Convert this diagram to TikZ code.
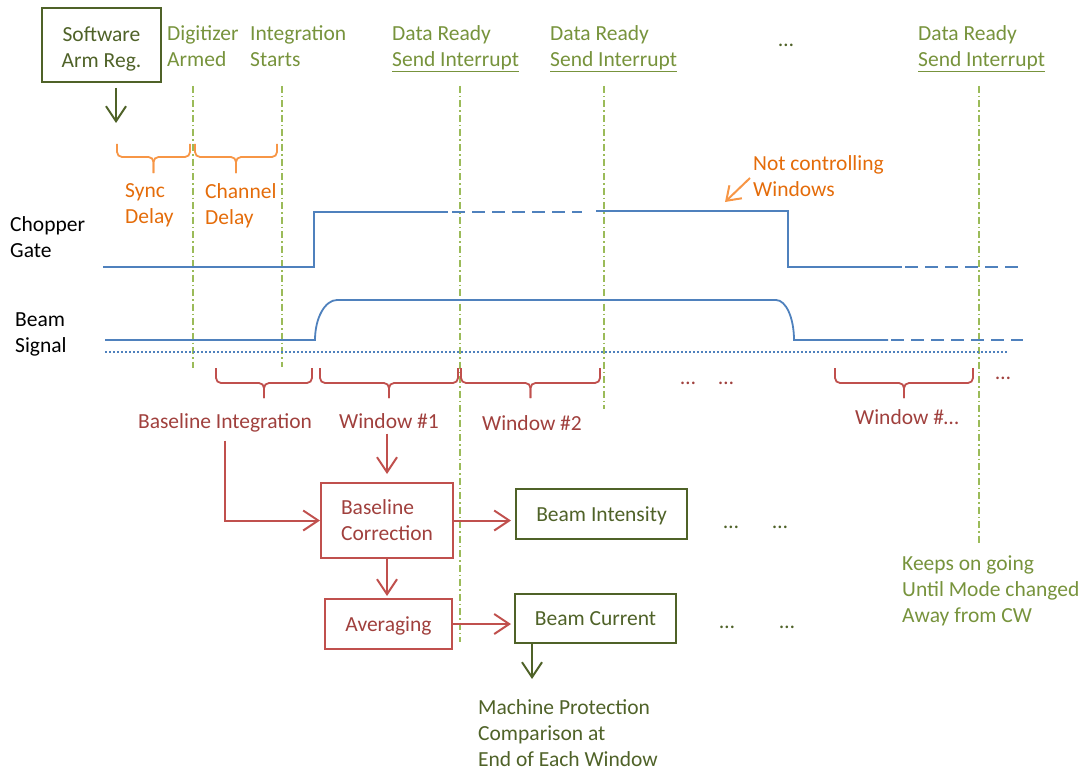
\documentclass[tikz,border=0pt]{standalone}
\usepackage{fontspec}
\setmainfont{Carlito}
\usepackage{tikz}
\usetikzlibrary{arrows.meta,calc}

\definecolor{boxgreen}{HTML}{4F6228}
\definecolor{txtgreen}{HTML}{77933C}
\definecolor{markgreen}{HTML}{9BBB59}
\definecolor{txtorange}{HTML}{E46C0A}
\definecolor{lineorange}{HTML}{F79646}
\definecolor{wblue}{HTML}{4F81BD}
\definecolor{linered}{HTML}{C0504D}
\definecolor{txtred}{HTML}{A0403D}

\begin{document}
\begin{tikzpicture}[x=1pt,y=-1pt,
  every node/.style={font=\fontsize{21.5}{26}\selectfont, inner sep=0pt},
  gtext/.style={text=txtgreen},
  otext/.style={text=txtorange},
  rtext/.style={text=txtred},
  greenbox/.style={draw=boxgreen, line width=2pt, text=boxgreen},
  redbox/.style={draw=linered, line width=2pt, text=txtred},
  marker/.style={draw=markgreen, line width=2pt, dash pattern=on 7pt off 3pt on 1.5pt off 3pt},
  wave/.style={draw=wblue, line width=1.8pt},
  wdash/.style={dash pattern=on 13pt off 7pt},
  obrace/.style={draw=lineorange, line width=1.8pt, rounded corners=5pt},
  rbrace/.style={draw=linered, line width=1.8pt, rounded corners=5pt},
  garrow/.style={draw=boxgreen, line width=2pt, -{Straight Barb[length=15pt,width=20pt]}},
  rarrow/.style={draw=linered, line width=2pt, -{Straight Barb[length=15pt,width=20pt]}},
  oarrow/.style={draw=lineorange, line width=2pt, -{Straight Barb[length=13pt,width=18pt]}}]
\useasboundingbox (0,0) rectangle (1084,773);

% Markers
\draw[marker] (193,86) -- (193,368);
\draw[marker] (282,86) -- (282,367);
\draw[marker] (460,86) -- (460,642);
\draw[marker] (604,86) -- (604,409);
\draw[marker] (979,86) -- (979,545);

% Top labels
\node[greenbox, minimum width=119pt, minimum height=74pt, align=center] (arm) at (101.5,45) {\rule{0pt}{23pt}Software\\Arm Reg.};
\node[gtext, anchor=west, align=left] (armed) at (167,46) {Digitizer\\Armed};
\node[gtext, anchor=west, align=left] (intstart) at (250,46) {Integration\\Starts};
\foreach \x/\n in {392/1,550/2,918/3}
    \node[gtext, anchor=west, align=left] (ready\n) at (\x,49) {Data Ready\\\underline{Send Interrupt}};
\node[text=boxgreen] (topdots) at (786,45) {…};

\coordinate (armtip) at (116,123);
\draw[garrow, shorten <=5pt] (arm.south -| armtip) -- (armtip);

% Delays
\foreach \a/\b in {117/190,195/277} {
    \draw[obrace] (\a,144) -- (\a,157) -- ({(\a+\b)/2},157) -- ({(\a+\b)/2},173);
    \draw[obrace] ({(\a+\b)/2},173) -- ({(\a+\b)/2},157) -- (\b,157) -- (\b,144);
}
\node[otext, anchor=west, align=left] (sync) at (125,205) {Sync\\Delay};
\node[otext, anchor=west, align=left] (chan) at (205,206) {Channel\\Delay};

\node[otext, anchor=west, align=left] (notctrl) at (753,176) {Not controlling\\Windows};
\coordinate (ncfrom) at (750,178);
\coordinate (ncto) at (725,202);
\draw[oarrow] (ncfrom) -- (ncto);

% Signals
\node[anchor=west, align=left] (chopper) at (10,237) {Chopper\\Gate};
\node[anchor=west, align=left] (beam) at (15,334) {Beam\\Signal};

\draw[wave] (103,267) -- (314,267) -- (314,212) -- (448,212);
\draw[wave, wdash] (452,212) -- (582,212);
\draw[wave] (596,211) -- (788,211) -- (788,267) -- (902,267);
\draw[wave, wdash] (905,267) -- (1024,267);

\draw[wave] (105,340) -- (315,340) .. controls (315,318) and (325,300) .. (337,300)
    -- (776,300) .. controls (786,300) and (794,318) .. (794,340) -- (888,340);
\draw[wave, wdash] (891,340) -- (1023,340);
\draw[wblue, line width=2pt, dash pattern=on 2pt off 2pt] (105,352) -- (1007,352);

% Windows
\foreach \a/\b in {216/312,320/458,461/600,835/973} {
    \draw[rbrace] (\a,368) -- (\a,383) -- ({(\a+\b)/2},383) -- ({(\a+\b)/2},398);
    \draw[rbrace] ({(\a+\b)/2},398) -- ({(\a+\b)/2},383) -- (\b,383) -- (\b,368);
}

\node[rtext] (bint) at (225,423) {Baseline Integration};
\node[rtext] (win1) at (389,421) {Window \#1};
\node[rtext] (win2) at (532,423) {Window \#2};
\node[rtext] (winn) at (907,417) {Window \#…};
\node[rtext] (rdotsa) at (688,383) {…};
\node[rtext] (rdotsb) at (726,383) {…};
\node[rtext] (rdotsc) at (1003,378) {…};

% Processing
\node[redbox, minimum width=132pt, minimum height=75pt, align=left] (bcorr) at (387,520.5) {Baseline\\Correction};
\node[redbox, minimum width=127pt, minimum height=50pt] (avg) at (388.5,624) {\rule{0pt}{19pt}Averaging};
\node[greenbox, minimum width=171pt, minimum height=50pt] (binten) at (601.5,514) {\rule{0pt}{19pt}Beam Intensity};
\node[greenbox, minimum width=161pt, minimum height=49pt] (bcur) at (595.5,618.5) {Beam Current};

\draw[rarrow, shorten <=8pt] (bint.south) |- (bcorr.west);
\draw[rarrow, shorten <=5pt, shorten >=8pt] (bcorr.north |- win1.south) -- (bcorr.north);
\draw[rarrow, shorten >=4pt] (bcorr.east) -- (bcorr.east -| binten.west);
\draw[rarrow, shorten >=2pt] (bcorr.south) -- (bcorr.south |- avg.north);
\draw[rarrow, shorten >=3pt] (avg.east) -- (avg.east -| bcur.west);

\coordinate (mptip) at (532,679);
\draw[garrow] (bcur.south -| mptip) -- (mptip);

\foreach \x/\y/\n in {731/527/a,780/527/b,727/627/c,787/627/d}
    \node[text=boxgreen] (gdots\n) at (\x,\y) {…};

\node[gtext, anchor=west, align=left] (keeps) at (902,591) {Keeps on going\\Until Mode changed\\Away from CW};
\node[text=boxgreen, anchor=west, align=left] (mprot) at (478,733) {Machine Protection\\Comparison at\\End of Each Window};
\end{tikzpicture}
\end{document}
